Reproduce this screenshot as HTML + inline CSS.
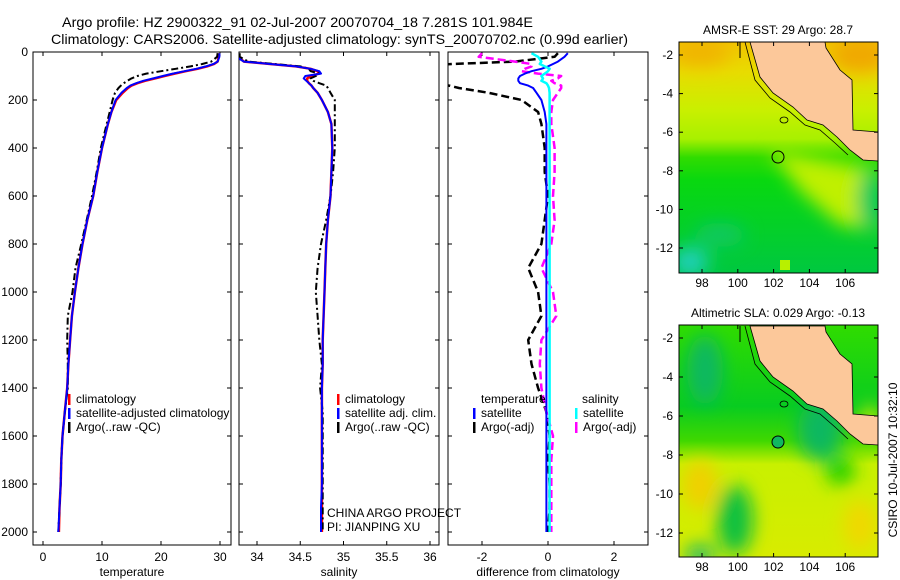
<!DOCTYPE html>
<html><head><meta charset="utf-8">
<style>
html,body{margin:0;padding:0;background:#fff;}
svg{display:block;font-family:"Liberation Sans",sans-serif;}
</style></head>
<body>
<svg id="fig" width="900" height="580" viewBox="0 0 900 580" xmlns="http://www.w3.org/2000/svg">
<defs>
<linearGradient id="sstSea" x1="0" y1="0" x2="0" y2="1">
<stop offset="0" stop-color="#f2c400"/><stop offset="0.13" stop-color="#e8dc00"/>
<stop offset="0.3" stop-color="#c8f000"/><stop offset="0.42" stop-color="#a8f000"/>
<stop offset="0.5" stop-color="#30dc00"/><stop offset="0.6" stop-color="#08d810"/>
<stop offset="1" stop-color="#00c840"/></linearGradient>
<linearGradient id="slaSea" x1="0" y1="0" x2="0" y2="1">
<stop offset="0" stop-color="#30dc00"/><stop offset="0.35" stop-color="#08cc20"/>
<stop offset="0.5" stop-color="#40d800"/><stop offset="0.6" stop-color="#c8f000"/>
<stop offset="1" stop-color="#d8ec00"/></linearGradient>
<filter id="blur" x="-50%" y="-50%" width="200%" height="200%"><feGaussianBlur stdDeviation="9"/></filter>
<clipPath id="clipMap1"><rect x="679" y="42" width="199" height="231"/></clipPath>
<clipPath id="clipMap2"><rect x="679" y="325" width="199" height="232"/></clipPath>
<clipPath id="clipP1"><rect x="33" y="52" width="198" height="493"/></clipPath>
<clipPath id="clipP2"><rect x="239" y="52" width="200" height="493"/></clipPath>
<clipPath id="clipP3"><rect x="448" y="52" width="200" height="493"/></clipPath>
</defs>

<text x="62" y="27" font-size="14" textLength="471" lengthAdjust="spacingAndGlyphs">Argo profile: HZ 2900322_91 02-Jul-2007 20070704_18 7.281S 101.984E</text>
<text x="51" y="44" font-size="14" textLength="577" lengthAdjust="spacingAndGlyphs">Climatology: CARS2006. Satellite-adjusted climatology: synTS_20070702.nc (0.99d earlier)</text>

<g id="panels"></g>

<!-- Map 1: SST -->
<g>
<text x="778" y="34" font-size="12" text-anchor="middle">AMSR-E SST: 29 Argo: 28.7</text>
<g clip-path="url(#clipMap1)">
<rect x="679" y="42" width="199" height="231" fill="url(#sstSea)"/>
<g filter="url(#blur)">
<polygon points="770,150 878,170 878,230 840,225 800,190" fill="#c0f000"/>
<ellipse cx="690" cy="262" rx="18" ry="14" fill="#20d0c0"/>
<ellipse cx="700" cy="52" rx="30" ry="14" fill="#f0b400"/>
<ellipse cx="860" cy="55" rx="30" ry="18" fill="#f0a800"/>
<ellipse cx="870" cy="200" rx="12" ry="30" fill="#00c860"/>
<ellipse cx="720" cy="235" rx="25" ry="12" fill="#10c860"/>
</g>
<rect x="780" y="260" width="10" height="10" fill="#b8f000"/>
<polygon id="land1" points="750,42 760,77 773,93 793,107 807,120 823,125 837,137 850,150 863,160 878,161 878,132 853,130 852,80 840,70 826,48 825,42" fill="#fcc89a" stroke="#000" stroke-width="0.8"/>
<polyline points="745,42 755,80 770,98 790,112 805,125 820,130 835,143 848,155" fill="none" stroke="#000" stroke-width="0.8"/>
<line x1="740" y1="42" x2="740" y2="58" stroke="#000" stroke-width="1"/>
<ellipse cx="784" cy="120" rx="4" ry="3" fill="none" stroke="#000" stroke-width="0.8"/>
<circle cx="778" cy="157" r="6" fill="none" stroke="#000" stroke-width="1"/>
</g>
<rect x="679" y="42" width="199" height="231" fill="none" stroke="#000" stroke-width="1"/>
<g id="map1ticks"></g>
</g>

<!-- Map 2: SLA -->
<g>
<text x="778" y="317" font-size="12" text-anchor="middle">Altimetric SLA: 0.029 Argo: -0.13</text>
<g clip-path="url(#clipMap2)">
<rect x="679" y="325" width="199" height="232" fill="url(#slaSea)"/>
<g filter="url(#blur)">
<ellipse cx="705" cy="370" rx="18" ry="35" fill="#10b860"/>
<ellipse cx="820" cy="430" rx="22" ry="30" fill="#10b860"/>
<ellipse cx="700" cy="485" rx="18" ry="25" fill="#f0d000"/>
<ellipse cx="860" cy="525" rx="16" ry="25" fill="#f0d800"/>
<ellipse cx="735" cy="520" rx="18" ry="35" fill="#10c040"/>
<ellipse cx="700" cy="555" rx="15" ry="10" fill="#10b870"/>
<ellipse cx="840" cy="470" rx="15" ry="15" fill="#20d000"/>
<ellipse cx="870" cy="420" rx="10" ry="15" fill="#c8ec00"/>
</g>
<g transform="translate(0,284)">
<polygon points="750,42 760,77 773,93 793,107 807,120 823,125 837,137 850,150 863,160 878,161 878,132 853,130 852,80 840,70 826,48 825,42" fill="#fcc89a" stroke="#000" stroke-width="0.8"/>
<polyline points="745,42 755,80 770,98 790,112 805,125 820,130 835,143 848,155" fill="none" stroke="#000" stroke-width="0.8"/>
<line x1="740" y1="42" x2="740" y2="58" stroke="#000" stroke-width="1"/>
<ellipse cx="784" cy="120" rx="4" ry="3" fill="none" stroke="#000" stroke-width="0.8"/>
<circle cx="778" cy="158" r="6" fill="#10b860" stroke="#000" stroke-width="1"/>
</g>
</g>
<rect x="679" y="325" width="199" height="232" fill="none" stroke="#000" stroke-width="1"/>
<g id="map2ticks"></g>
</g>

<text transform="translate(897,460) rotate(-90)" font-size="12" text-anchor="middle">CSIRO 10-Jul-2007 10:32:10</text>
</svg>

<script>
// ----- data -----
const depths = [5,20,40,50,60,70,80,90,100,110,120,130,140,150,170,200,250,300,400,500,600,700,800,900,1000,1100,1200,1300,1400,1500,1600,1700,1800,1900,2000];
const tempClim = [29.8,29.8,29.6,29.0,27.8,26.2,24.2,22.3,20.6,19.0,17.3,16.0,15.0,14.4,13.5,12.4,11.6,11.0,10.0,9.2,8.5,7.5,6.7,6.0,5.4,4.9,4.6,4.3,4.1,3.7,3.3,3.1,3.0,2.8,2.7];
const tempSat = [29.9,29.9,29.6,28.9,27.6,26.0,24.0,22.0,20.3,18.7,17.0,15.8,14.8,14.2,13.3,12.3,11.6,11.0,10.0,9.2,8.5,7.5,6.7,6.0,5.4,4.9,4.6,4.3,4.1,3.7,3.3,3.1,3.0,2.8,2.6];
const tempArgo = [29.6,29.5,28.5,27.0,25.0,22.5,20.0,17.5,16.0,15.0,14.3,13.7,13.2,12.8,12.2,11.8,11.3,10.8,9.8,9.1,8.3,7.4,6.5,5.5,5.0,4.2,4.1,4.2,4.2,3.7,3.3,3.1,3.0,2.8,2.6];
const salClim = [33.75,33.78,33.85,34.15,34.45,34.62,34.70,34.72,34.62,34.58,34.58,34.60,34.63,34.65,34.70,34.75,34.82,34.86,34.87,34.86,34.85,34.82,34.80,34.79,34.78,34.77,34.76,34.76,34.75,34.75,34.75,34.75,34.75,34.75,34.75];
const salSat = [33.73,33.76,33.85,34.15,34.45,34.62,34.72,34.74,34.56,34.54,34.57,34.60,34.63,34.65,34.70,34.75,34.82,34.86,34.87,34.86,34.85,34.82,34.80,34.79,34.78,34.77,34.76,34.76,34.75,34.75,34.75,34.75,34.75,34.74,34.74];
const salArgo = [33.8,33.8,33.9,34.2,34.5,34.6,34.62,34.72,34.68,34.62,34.65,34.72,34.80,34.82,34.85,34.90,34.90,34.90,34.90,34.88,34.85,34.80,34.74,34.70,34.68,34.70,34.72,34.75,34.73,34.76,34.76,34.76,34.76,34.76,34.76];
const dTempSat = [0.6,0.5,0.3,0.15,0,-0.2,-0.5,-0.7,-0.85,-0.9,-0.9,-0.85,-0.6,-0.45,-0.35,-0.2,-0.1,-0.05,-0.05,-0.05,-0.05,-0.05,-0.05,-0.05,-0.05,-0.05,-0.05,-0.05,-0.05,-0.05,-0.05,-0.05,-0.05,-0.05,-0.05];
const dTempArgo = [0.3,0.2,-1.0,-2.9,-4.0,-4.5,-5.0,-5.0,-4.5,-4.2,-3.8,-3.4,-3.0,-2.7,-1.8,-0.8,-0.3,-0.2,-0.1,-0.1,0,-0.1,-0.2,-0.6,-0.3,-0.2,-0.6,-0.5,-0.3,-0.05,0.05,0,0.05,0.05,0];
const dSalSat = [-0.5,-0.3,-0.2,-0.25,-0.1,0.05,0,-0.1,-0.2,-0.15,-0.2,-0.05,0,0.03,0.05,0.05,0.05,0.05,0.05,0.05,0.05,0.05,0.05,0.05,0.05,0.05,0.05,0.05,0.05,0.05,0.05,0.05,0.05,0.05,0.05];
const dSalArgo = [-2.0,-2.1,-1.0,-0.5,-0.5,-0.7,-0.8,-0.3,0.4,0.3,0.1,0.2,0.4,0.4,0.3,0.15,0.1,0.1,0.2,0.2,0.15,0.2,0.1,-0.2,0.15,0.25,-0.2,-0.25,-0.2,-0.05,0.15,0.1,0.1,0.1,0.1];
const depthTicks = [0,200,400,600,800,1000,1200,1400,1600,1800,2000];
const tempTicks = [0,10,20,30];
const salTicks = [34,34.5,35,35.5,36];
const diffTicks = [-2,0,2];
const lonTicks = [98,100,102,104,106];
const latTicks = [-2,-4,-6,-8,-10,-12];

const NS = "http://www.w3.org/2000/svg";
const svg = document.getElementById('fig');
const panels = document.getElementById('panels');
function mk(tag, attrs, parent){const e=document.createElementNS(NS,tag);for(const k in attrs)e.setAttribute(k,attrs[k]);(parent||panels).appendChild(e);return e;}

const yD = d => 52 + d*0.24;
const xT = t => 43 + 5.9*t;
const xS = s => 257 + 86.5*(s-34);
const xDf = v => 548 + 33*v;

function panelFrame(x0,x1,name){
  const r = mk('rect',{x:x0,y:52,width:x1-x0,height:493,fill:'none',stroke:'#000','stroke-width':1});
  
  
  depthTicks.forEach(d=>{
    mk('line',{x1:x0,y1:yD(d),x2:x0+4,y2:yD(d),stroke:'#000'});
    mk('line',{x1:x1-4,y1:yD(d),x2:x1,y2:yD(d),stroke:'#000'});
  });
}
function xTicks(ticks,fx,x0,label,name){
  ticks.forEach(v=>{
    const x=fx(v);
    mk('line',{x1:x,y1:52,x2:x,y2:56,stroke:'#000'});
    mk('line',{x1:x,y1:541,x2:x,y2:545,stroke:'#000'});
    const t=mk('text',{x:x,y:561,'font-size':12,'text-anchor':'middle'});
    t.textContent=String(v);
    
    
  });
  const lab=mk('text',{x:x0,y:576,'font-size':12,'text-anchor':'middle'});
  lab.textContent=label;
  
  
}
function series(vals,fx,color,dash,w,clip,name){
  const pts = vals.map((v,i)=>fx(v).toFixed(1)+','+yD(depths[i]).toFixed(1)).join(' ');
  const p = mk('polyline',{points:pts,fill:'none',stroke:color,'stroke-width':w,'stroke-dasharray':dash||'none','clip-path':'url(#'+clip+')','stroke-linejoin':'round'});
  
  
}
function legendRow(x,y,color,text,name){
  mk('rect',{x:x,y:y-9,width:2.5,height:11,fill:color});
  const t=mk('text',{x:x+8,y:y,'font-size':12});
  t.textContent=text;
  
  
}

// depth labels
depthTicks.forEach(d=>{
  const t=mk('text',{x:28,y:yD(d)+4,'font-size':12,'text-anchor':'end'});
  t.textContent=String(d);
  
  
});

// Panel 1 temperature
panelFrame(33,231,'temperature-panel');
xTicks(tempTicks,xT,132,'temperature','temperature');
series(tempClim,xT,'#f00','none',2.5,'clipP1','temperature-climatology-line');
series(tempArgo,xT,'#000','7,3,2,3',2,'clipP1','temperature-argo-line');
series(tempSat,xT,'#00f','none',2,'clipP1','temperature-satellite-line');
legendRow(68,403,'#f00','climatology','temp-legend-climatology');
legendRow(68,417,'#00f','satellite-adjusted climatology','temp-legend-satellite');
legendRow(68,431,'#000','Argo(..raw -QC)','temp-legend-argo');

// Panel 2 salinity
panelFrame(239,439,'salinity-panel');
xTicks(salTicks,xS,339,'salinity','salinity');
series(salClim,xS,'#f00','none',2.5,'clipP2','salinity-climatology-line');
series(salArgo,xS,'#000','7,3,2,3',2,'clipP2','salinity-argo-line');
series(salSat,xS,'#00f','none',2,'clipP2','salinity-satellite-line');
legendRow(337,403,'#f00','climatology','sal-legend-climatology');
legendRow(337,417,'#00f','satellite adj. clim.','sal-legend-satellite');
legendRow(337,431,'#000','Argo(..raw -QC)','sal-legend-argo');
const c1=mk('text',{x:327,y:517,'font-size':12});
c1.textContent='CHINA ARGO PROJECT';


const c2=mk('text',{x:327,y:531,'font-size':12});
c2.textContent='PI: JIANPING XU';



// Panel 3 difference
panelFrame(448,648,'difference-panel');
xTicks(diffTicks,xDf,548,'difference from climatology','difference');
series(dTempArgo,xDf,'#000','8,4',2.5,'clipP3','diff-temp-argo-line');
series(dSalArgo,xDf,'#f0f','8,4',2.5,'clipP3','diff-sal-argo-line');
series(dTempSat,xDf,'#00f','none',2,'clipP3','diff-temp-satellite-line');
series(dSalSat,xDf,'#0ff','none',2.5,'clipP3','diff-sal-satellite-line');
const lt=mk('text',{x:481,y:403,'font-size':12});
lt.textContent='temperature';


const ls=mk('text',{x:582,y:403,'font-size':12});
ls.textContent='salinity';


legendRow(473,417,'#00f','satellite','diff-legend-temp-satellite');
legendRow(473,431,'#000','Argo(-adj)','diff-legend-temp-argo');
legendRow(575,417,'#0ff','satellite','diff-legend-sal-satellite');
legendRow(575,431,'#f0f','Argo(-adj)','diff-legend-sal-argo');

// map ticks
function mapTicks(gid,top,bottom,latY0,latStep){
  const g=document.getElementById(gid);
  lonTicks.forEach(l=>{
    const x=702+(l-98)*17.9;
    mk('line',{x1:x,y1:bottom,x2:x,y2:bottom-4,stroke:'#000'},g);
    mk('line',{x1:x,y1:top,x2:x,y2:top+4,stroke:'#000'},g);
    const t=mk('text',{x:x,y:bottom+14,'font-size':12,'text-anchor':'middle'},g);
    t.textContent=String(l);
    
    
  });
  latTicks.forEach(l=>{
    const y=latY0+(-2-l)*latStep;
    mk('line',{x1:679,y1:y,x2:683,y2:y,stroke:'#000'},g);
    mk('line',{x1:874,y1:y,x2:878,y2:y,stroke:'#000'},g);
    const t=mk('text',{x:673,y:y+4,'font-size':12,'text-anchor':'end'},g);
    t.textContent=String(l);
    
    
  });
}
mapTicks('map1ticks',42,273,55,19.3);
mapTicks('map2ticks',325,557,338,19.5);
</script>
</body></html>
